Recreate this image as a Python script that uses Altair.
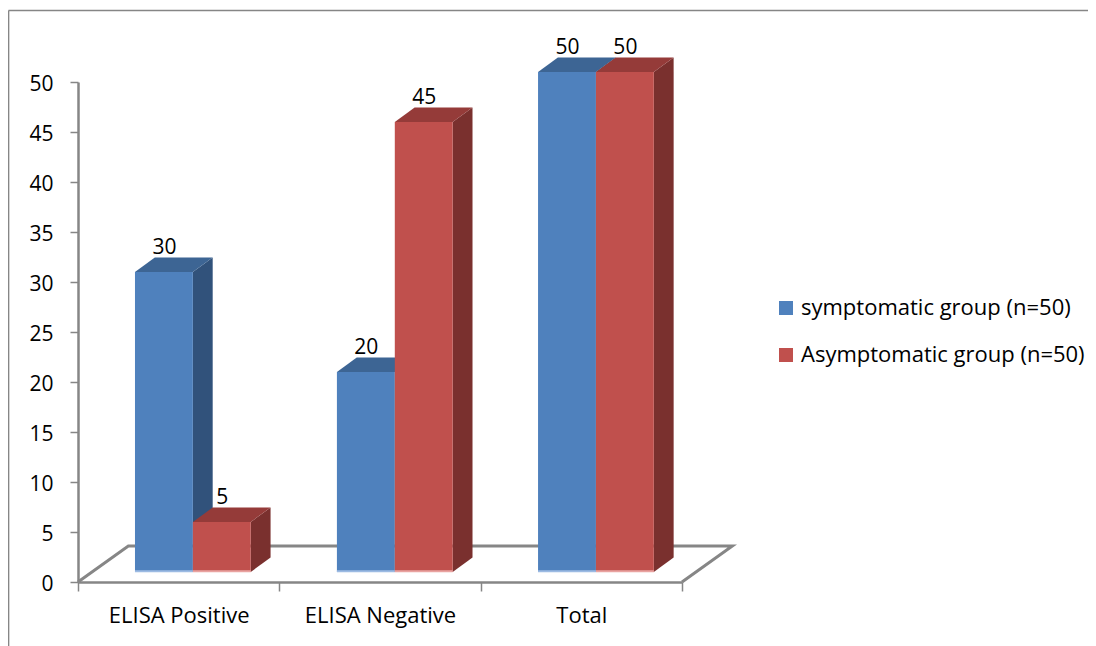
import altair as alt
import json
import pandas as pd

categories = ["ELISA Positive", "ELISA Negative", "Total"]
series_names = ["symptomatic group (n=50)", "Asymptomatic group (n=50)"]
symptomatic = [30, 20, 50]
asymptomatic = [5, 45, 50]
y_ticks = list(range(0, 51, 5))
x_axis_values = [0, 0.5, 1, 1.5, 2, 2.5, 3]

front_colors = ["#4F81BD", "#C0504D"]
top_colors = ["#3D6594", "#953B39"]
side_colors = ["#31527B", "#7A302E"]
strip_colors = ["#9DBBE3", "#E9A3A1"]
GRAY = "#868686"
FONT = "Open Sans"

# 3D geometry in data units
BAR_W = 0.2875
GROUP_START = [0.283, 1.286, 2.285]
BASE = 1.0
DX, DY = 0.0985, 1.45
FLOOR_DX, FLOOR_DY = 0.25, 3.6

bars = []
for s, vals in enumerate([symptomatic, asymptomatic]):
    for c, v in enumerate(vals):
        x0 = GROUP_START[c] + s * BAR_W
        bars.append(dict(id=f"{s}-{c}", series=series_names[s], value=v, x0=x0, x1=x0 + BAR_W,
                         xc=x0 + BAR_W / 2, top=BASE + v, s=s))
bars = pd.DataFrame(bars)

tops, sides = [], []
for _, b in bars.iterrows():
    for k in (0, 1):
        tops.append(dict(id=b.id, y=b.top + k * DY, x=b.x0 + k * DX, x2=b.x1 + k * DX, c=top_colors[b.s]))
        sides.append(dict(id=b.id, x=b.x1 + k * DX, y=b.top + k * DY, y2=BASE + k * DY, c=side_colors[b.s]))
tops = pd.DataFrame(tops)
sides = pd.DataFrame(sides)
bars["strip"] = [strip_colors[s] for s in bars.s]
bars["strip_y0"] = BASE - 0.02
bars["strip_y1"] = BASE + 0.18

floor = pd.DataFrame(dict(x=[0, FLOOR_DX, 3 + FLOOR_DX, 3], y=[0, FLOOR_DY, FLOOR_DY, 0], o=[0, 1, 2, 3]))
one = pd.DataFrame({"a": [0]})

xs = alt.Scale(domain=[0, 3])
ys = alt.Scale(domain=[0, 50])

base_axis = alt.Chart(floor).mark_line(stroke=GRAY, strokeWidth=3, strokeJoin="miter", clip=False).encode(
    x=alt.X("x:Q", scale=xs, title=None,
            axis=alt.Axis(values=x_axis_values, grid=False, domainColor=GRAY, domainWidth=2.5,
                          tickColor=GRAY, tickWidth=1.5, tickSize=9,
                          tickOpacity={"expr": "floor(datum.value) == datum.value ? 1 : 0"},
                          labelFont=FONT, labelFontSize=22, labelColor="#000000", labelPadding=14,
                          labelOverlap=False, labelBound=False, labelFlush=False,
                          labelExpr=f"floor(datum.value) == datum.value ? '' : {json.dumps(categories)}[floor(datum.value)]")),
    y=alt.Y("y:Q", scale=ys, title=None,
            axis=alt.Axis(values=y_ticks, grid=False, domainColor=GRAY, domainWidth=2.5, tickColor=GRAY,
                          tickWidth=1.5, tickSize=8, labelFont=FONT, labelFontSize=21, labelColor="#000000",
                          labelPadding=17, labelOffset=2)),
    order="o:Q",
)

side_l = alt.Chart(sides).mark_area(orient="vertical", clip=False).encode(
    x=alt.X("x:Q", scale=xs), y=alt.Y("y:Q", scale=ys, stack=None), y2="y2:Q",
    detail="id:N", fill=alt.Fill("c:N", scale=None),
)
top_l = alt.Chart(tops).mark_area(orient="horizontal", clip=False).encode(
    y=alt.Y("y:Q", scale=ys), x=alt.X("x:Q", scale=xs, stack=None), x2="x2:Q",
    detail="id:N", fill=alt.Fill("c:N", scale=None),
)
front_l = alt.Chart(bars).mark_rect(clip=False).encode(
    x=alt.X("x0:Q", scale=xs), x2="x1:Q",
    y=alt.Y("top:Q", scale=ys), y2=alt.datum(BASE),
    color=alt.Color("series:N", scale=alt.Scale(domain=series_names, range=front_colors),
                    legend=alt.Legend(orient="none", legendX=697, legendY=215, title=None, symbolType="square",
                                      symbolSize=196, labelFont=FONT, labelFontSize=22, labelColor="#000000",
                                      symbolStrokeWidth=0, rowPadding=25, labelOffset=4, labelLimit=400)),
)
strip_l = alt.Chart(bars).mark_rect(clip=False).encode(
    x=alt.X("x0:Q", scale=xs), x2="x1:Q",
    y=alt.Y("strip_y0:Q", scale=ys), y2="strip_y1:Q",
    fill=alt.Fill("strip:N", scale=None),
)
text_l = alt.Chart(bars).mark_text(font=FONT, fontSize=21, color="#000000", dy=-34, dx=0.5, baseline="middle").encode(
    x=alt.X("xc:Q", scale=xs), y=alt.Y("value:Q", scale=ys), text="value:Q",
)
frame_left = alt.Chart(one).mark_rule(color=GRAY, strokeWidth=1.7).encode(
    x=alt.value(-69.5), y=alt.value(-71.5), y2=alt.value(564))
frame_top = alt.Chart(one).mark_rule(color=GRAY, strokeWidth=1.3).encode(
    x=alt.value(-69.5), x2=alt.value(1018), y=alt.value(-71.5))

chart = alt.layer(
    base_axis, side_l, top_l, front_l, strip_l, text_l, frame_left, frame_top
).properties(
    width=604, height=500,
    padding={"left": 70, "top": 74, "right": 406, "bottom": 64},
    autosize=alt.AutoSizeParams(type="none"),
).configure_view(stroke=None)

chart.save("out.html", embed_options={"renderer": "svg", "actions": False})
